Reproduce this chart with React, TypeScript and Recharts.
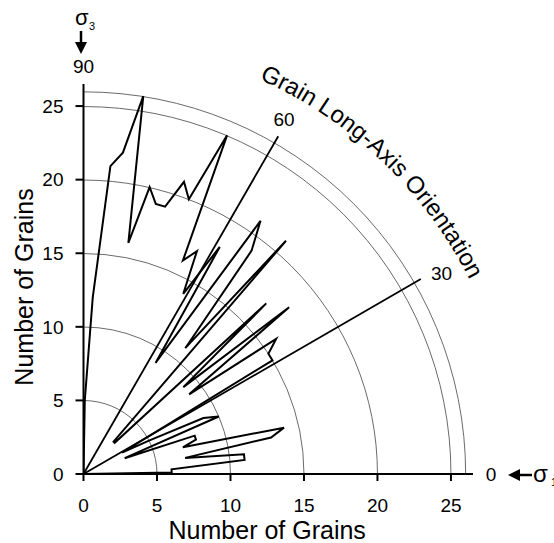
import { ComposedChart, XAxis, YAxis, Scatter, ReferenceLine } from "recharts";

// 2-degree orientation bins (bin centres) and grain counts per bin
const binAngles = [
  1, 3, 5, 7, 9, 11, 13, 15, 17, 19, 21, 23, 25, 27, 29, 31, 33, 35, 37, 39, 41, 43, 45,
  47, 49, 51, 53, 55, 57, 59, 61, 63, 65, 67, 69, 71, 73, 75, 77, 79, 81, 83, 85, 87, 89,
];
const grainCounts = [
  6, 6, 11, 11, 7, 13, 14, 7, 8, 8, 3, 10, 9, 5, 3, 15, 15, 16, 9, 18, 9, 17, 3,
  3, 21, 11, 19, 21, 9, 18, 14, 17, 16, 25, 20, 21, 19, 19, 20, 16, 26, 22, 21, 12, 5,
];

const axisTicks = [0, 5, 10, 15, 20, 25];
const gridRadii = [5, 10, 15, 20, 25, 26];
const guideAngles = [30, 60];
const axisMax = 26.5;

const FONT = "'Liberation Sans', Arial, sans-serif";
const rad = (deg: number) => (deg * Math.PI) / 180;

const toXY = (deg: number, r: number) => ({
  x: r * Math.cos(rad(deg)),
  y: r * Math.sin(rad(deg)),
});

// rose polygon: starts and ends at the origin
const roseData = [
  { x: 0, y: 0 },
  ...binAngles.map((a, i) => toXY(a, grainCounts[i])),
  { x: 0, y: 0 },
];

const ArcShape = (props: any) => {
  const { x1, y1, x2 } = props;
  const r = x2 - x1;
  return (
    <path
      d={`M ${x1 + r} ${y1} A ${r} ${r} 0 0 0 ${x1} ${y1 - r}`}
      fill="none"
      stroke="#444"
      strokeWidth={0.8}
    />
  );
};

// annotation layer, positioned from the origin and the 26-unit radius
const FrameShape = (props: any) => {
  const { x1: ox, y1: oy, x2 } = props;
  const u = (x2 - ox) / 26;
  const P = (deg: number, r: number) => [ox + r * u * Math.cos(rad(deg)), oy - r * u * Math.sin(rad(deg))];
  const titleR = 29.4 * u;
  const startOffset = titleR * rad(90 - 66);
  const labels: [string, number, number][] = [
    ["0", 0, 27.72],
    ["30", 29.2, 27.9],
    ["60", 60.5, 27.7],
    ["90", 90, 27.72],
  ];
  return (
    <g fontFamily={FONT} fill="#000">
      <defs>
        <path
          id="titleArc"
          d={`M ${ox} ${oy - titleR} A ${titleR} ${titleR} 0 0 1 ${ox + titleR} ${oy}`}
          fill="none"
        />
      </defs>
      {labels.map(([t, d, r]) => {
        const [x, y] = P(d, r);
        return (
          <text key={t} x={x} y={y} fontSize={19} textAnchor="middle" dominantBaseline="central">
            {t}
          </text>
        );
      })}
      <text fontSize={24}>
        <textPath href="#titleArc" startOffset={startOffset}>
          Grain Long-Axis Orientation
        </textPath>
      </text>
      {/* sigma 3 with down arrow */}
      <text x={ox - 8.5} y={25} fontSize={22}>σ</text>
      <text x={ox + 5.5} y={30} fontSize={11}>3</text>
      <line x1={ox - 2.5} y1={31} x2={ox - 2.5} y2={45} stroke="#000" strokeWidth={2.5} />
      <polygon points={`${ox - 8.5},42 ${ox + 3.5},42 ${ox - 2.5},54`} fill="#000" />
      {/* sigma 1 with left arrow */}
      <line x1={520} y1={oy + 1} x2={532} y2={oy + 1} stroke="#000" strokeWidth={2.5} />
      <polygon points={`508,${oy + 1} 520,${oy - 5} 520,${oy + 7}`} fill="#000" />
      <text x={533} y={oy + 8} fontSize={24}>σ</text>
      <text x={551} y={oy + 12} fontSize={11}>1</text>
      {/* axis titles */}
      <text x={ox + 12.5 * u} y={539} fontSize={25} textAnchor="middle">
        Number of Grains
      </text>
      <text x={33} y={287} fontSize={25} textAnchor="middle" transform="rotate(-90 33 287)">
        Number of Grains
      </text>
    </g>
  );
};

export default function App() {
  return (
    <div style={{ width: 554, height: 543 }}>
      <style>{"body{margin:0}"}</style>
      <ComposedChart
        width={554}
        height={543}
        margin={{ top: 84, right: 81, bottom: 39, left: 23.5 }}
      >
        <XAxis
          type="number"
          dataKey="x"
          domain={[0, axisMax]}
          ticks={axisTicks}
          allowDataOverflow
          interval={0}
          height={30}
          tickSize={7}
          tickMargin={18}
          axisLine={{ stroke: "#000", strokeWidth: 2 }}
          tickLine={{ stroke: "#000", strokeWidth: 2 }}
          tick={{ fill: "#000", fontSize: 19, fontFamily: FONT }}
        />
        <YAxis
          type="number"
          dataKey="y"
          domain={[0, axisMax]}
          ticks={axisTicks}
          allowDataOverflow
          interval={0}
          width={60}
          tickSize={8}
          tickMargin={12}
          axisLine={{ stroke: "#000", strokeWidth: 2 }}
          tickLine={{ stroke: "#000", strokeWidth: 2 }}
          tick={{ fill: "#000", fontSize: 19, fontFamily: FONT }}
        />
        {gridRadii.map((r) => (
          <ReferenceLine
            key={r}
            segment={[{ x: 0, y: 0 }, { x: r, y: 0 }]}
            shape={ArcShape}
          />
        ))}
        {guideAngles.map((a) => (
          <ReferenceLine
            key={a}
            segment={[{ x: 0, y: 0 }, toXY(a, axisMax)]}
            stroke="#000"
            strokeWidth={1.8}
          />
        ))}
        <ReferenceLine segment={[{ x: 0, y: 0 }, { x: 26, y: 0 }]} shape={FrameShape} />
        <Scatter
          data={roseData}
          line={{ stroke: "#000", strokeWidth: 2 }}
          lineJointType="linear"
          shape={() => <g />}
          isAnimationActive={false}
        />
      </ComposedChart>
    </div>
  );
}
